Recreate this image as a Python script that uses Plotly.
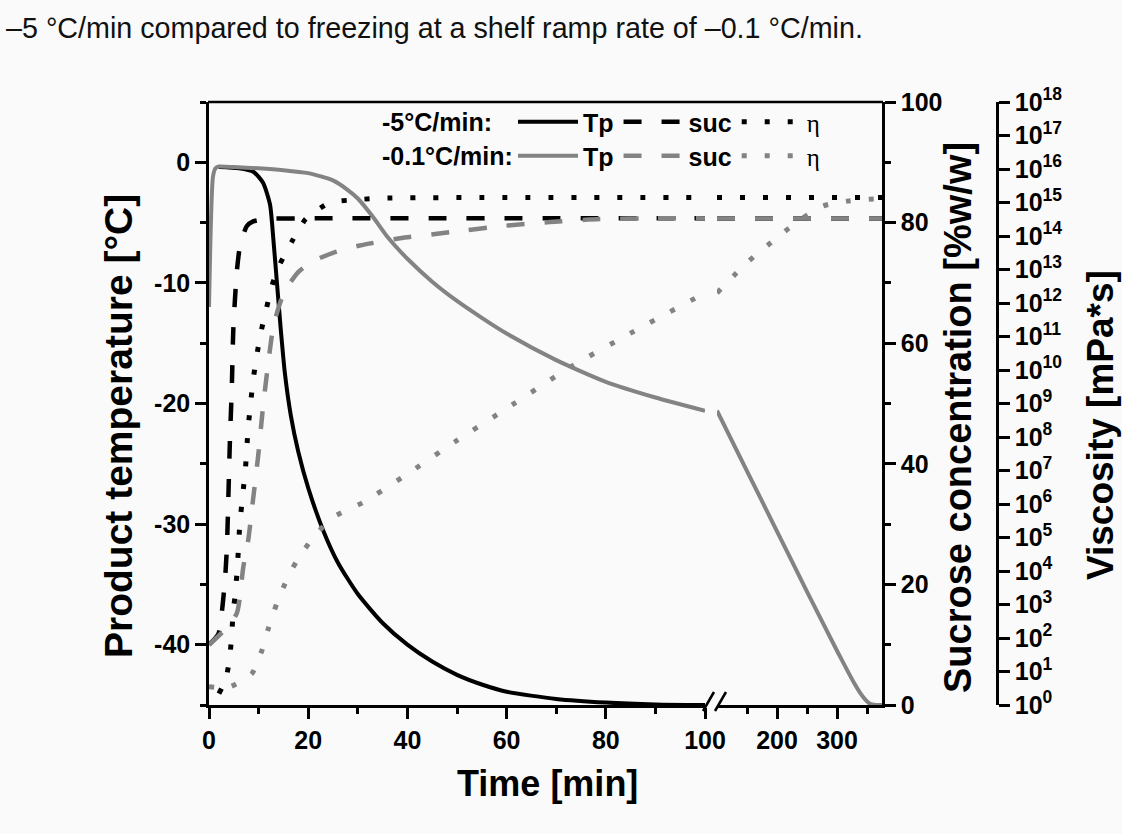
import plotly.graph_objects as go

FONT = "Liberation Sans, Arial, sans-serif"
W, H = 1122, 834
L, R, T, B = 209, 125, 102, 129
PW, PH = W - L - R, H - T - B

def px(xp):
    return (xp - L) / PW

def py(yp):
    return (H - B - yp) / PH

# ---------------- data (time in min) ----------------
# -5 °C/min
tp_fast_t = [2, 6, 9, 10.9, 12.3, 13.0, 13.7, 14.5, 15.3, 16.5, 18, 20, 23, 26, 30,
             35, 40, 45, 50, 55, 60, 70, 80, 90, 100]
tp_fast = [-0.4, -0.5, -0.8, -1.7, -3.5, -6.5, -10.0, -14.0, -17.5, -21.0, -24.0, -27.0, -30.5,
           -33.2, -35.8, -38.2, -40.0, -41.4, -42.5, -43.3, -43.9, -44.5, -44.8, -44.95, -45.0]

suc_fast_t = [0, 1.9, 2.6, 3.2, 3.6, 3.9, 4.2, 4.6, 4.9, 5.6, 6.25, 7.6, 8.9, 11.6, 20, 100, 375]
suc_fast = [10, 11.8, 15.5, 20.5, 26.0, 34.3, 43.4, 52.7, 62.2, 71.8, 76.1, 79.4, 80.2, 80.6, 80.7, 80.7, 80.7]

eta_fast_t = [2.0, 3.4, 4.2, 4.6, 4.9, 5.3, 5.8, 6.2, 6.8, 7.3, 7.9, 8.4, 8.9, 9.6, 10.4, 11.5,
              12.6, 14.3, 16.7, 19.5, 24.4, 29.4, 35, 100, 375]
eta_fast = [2.2e0, 6.0e0, 2.8e1, 1.4e2, 6.9e2, 2.0e3, 2.1e4, 2.3e5, 1.9e6, 9.3e6, 1.9e8, 1.05e9,
            5.1e9, 2.5e10, 1.2e11, 6.0e11, 3.0e12, 1.45e13, 6.8e13, 3.2e14, 1.0e15, 1.2e15,
            1.35e15, 1.4e15, 1.4e15]

# -0.1 °C/min
tp_slow_t = [0, 0.8, 1.3, 2, 5, 10, 15, 20, 25, 28, 30, 33, 36, 40, 45, 50, 55, 60, 70, 80, 90, 100,
             150, 200, 250, 300, 320, 330, 340, 348, 355, 365, 375]
tp_slow = [-12, -1.2, -0.5, -0.35, -0.4, -0.5, -0.65, -0.9, -1.5, -2.3, -3.0, -4.5, -6.2, -8.0,
           -9.9, -11.5, -12.9, -14.2, -16.4, -18.2, -19.5, -20.6,
           -25.6, -30.6, -35.6, -40.5, -42.4, -43.3, -44.1, -44.6, -44.9, -45.0, -45.0]

suc_slow_t = [0, 2.6, 5.6, 6.9, 7.9, 8.9, 9.9, 10.9, 12.0, 13.0, 14.6, 15.7, 18, 21, 25.7, 30.4,
              38.5, 48.6, 58.7, 68.8, 78.8, 90, 100, 375]
suc_slow = [10, 12, 15.2, 22.8, 27.3, 34.2, 41.2, 49.5, 57.1, 62.9, 67.3, 69.2, 71.8, 73.6, 75.2,
            76.2, 77.4, 78.4, 79.4, 80.1, 80.6, 80.7, 80.7, 80.7]

eta_slow_t = [0, 4, 8.6, 10.6, 12, 13.6, 15.7, 17.7, 21, 25, 31, 40, 50, 60, 73, 85, 100,
              150, 202, 238, 277, 317, 353, 375]
eta_slow = [3.5e0, 3.4e0, 8.5e0, 4.0e1, 2.0e2, 1.0e3, 5.6e3, 2.0e4, 1.0e5, 4.0e5, 1.1e6, 7.9e6,
            7.9e7, 7.1e8, 1.26e10, 1.26e11, 2.0e12,
            1.6e13, 9.5e13, 3.0e14, 7.9e14, 1.1e15, 1.26e15, 1.3e15]

x_left_ticks = [0, 20, 40, 60, 80, 100]
x_right_ticks = [200, 300]
temp_ticks = [-40, -30, -20, -10, 0]
visc_exp = list(range(0, 19))

BLACK = "#000000"
GRAY = "#838383"

fig = go.Figure()


def add_series(t, v, yaxis, color, dash, width, name, legend):
    left = [(a, b) for a, b in zip(t, v) if a <= 100]
    right = [(a, b) for a, b in zip(t, v) if a >= 100]
    for i, (part, xa) in enumerate(((left, "x"), (right, "x2"))):
        if len(part) < 2:
            continue
        fig.add_trace(go.Scatter(
            x=[p[0] for p in part], y=[p[1] for p in part],
            xaxis=xa, yaxis=yaxis, mode="lines", name=name,
            line=dict(color=color, width=width, dash=dash, shape="spline", smoothing=0.6),
            legend=legend, legendgroup=legend + name, showlegend=(i == 0),
            hoverinfo="skip"))


ETA = "<span style='font-family:Liberation Serif;font-weight:normal'>η</span>"
DASH = "18px,20px"
DOT = "5px,18px"

add_series(tp_fast_t, tp_fast, "y", BLACK, "solid", 4, "Tp", "legend")
add_series(suc_fast_t, suc_fast, "y2", BLACK, DASH, 4.5, "suc", "legend")
add_series(eta_fast_t, eta_fast, "y3", BLACK, DOT, 5, ETA, "legend")
add_series(tp_slow_t, tp_slow, "y", GRAY, "solid", 4, "Tp", "legend2")
add_series(suc_slow_t, suc_slow, "y2", GRAY, DASH, 4.5, "suc", "legend2")
add_series(eta_slow_t, eta_slow, "y3", GRAY, DOT, 5, ETA, "legend2")

tick_font = dict(family=FONT, size=25, color="black", weight="bold")
axis_common = dict(showgrid=False, zeroline=False, showline=True, linecolor="black", linewidth=2.5,
                   ticks="outside", ticklen=11, tickwidth=2.5, tickcolor="black",
                   tickfont=tick_font, automargin=False)

leg_font = dict(family=FONT, size=25, color="black", weight="bold")
leg_common = dict(orientation="h", xanchor="left", yanchor="middle", font=leg_font,
                  bgcolor="rgba(0,0,0,0)", borderwidth=0, itemwidth=60,
                  itemclick=False, itemdoubleclick=False)

fig.update_layout(
    width=W, height=H,
    margin=dict(l=L, r=R, t=T, b=B),
    paper_bgcolor="#fafafa", plot_bgcolor="#fafafa",
    xaxis=dict(domain=[0, px(705)], range=[0, 100], tickmode="array", tickvals=x_left_ticks,
               minor=dict(dtick=10, tick0=0, ticks="outside", ticklen=6, tickwidth=2.5, tickcolor="black"),
               anchor="y", **axis_common),
    xaxis2=dict(domain=[px(717), px(882)], range=[100, 375], tickmode="array", tickvals=x_right_ticks,
                minor=dict(tickmode="array", tickvals=[150, 250, 350], ticks="outside", ticklen=6,
                           tickwidth=2.5, tickcolor="black"),
                anchor="y", **axis_common),
    yaxis=dict(range=[-45, 5], tickmode="array", tickvals=temp_ticks,
               ticktext=[str(v) for v in temp_ticks], anchor="x",
               minor=dict(dtick=5, tick0=0, ticks="outside", ticklen=6, tickwidth=2.5, tickcolor="black"),
               **axis_common),
    yaxis2=dict(range=[0, 100], tickmode="linear", tick0=0, dtick=20, anchor="x2", side="right",
                overlaying="y",
                minor=dict(dtick=10, tick0=0, ticks="outside", ticklen=6, tickwidth=2.5, tickcolor="black"),
                **axis_common),
    yaxis3=dict(type="log", range=[0, 18], tickmode="array",
                tickvals=[10 ** e for e in visc_exp],
                ticktext=["10<sup>%d</sup>" % e for e in visc_exp],
                anchor="free", position=1.0, side="right", overlaying="y",
                **axis_common),
    legend=dict(x=px(513), y=py(122), **leg_common),
    legend2=dict(x=px(513), y=py(156), **leg_common),
    showlegend=True,
)

ann = [
    dict(text="Time [min]", x=px(547), y=py(783),
         font=dict(family=FONT, size=36, color="black", weight="bold")),
    dict(text="Product temperature [°C]", x=px(118), y=py(426), textangle=-90,
         font=dict(family=FONT, size=39, color="black", weight="bold")),
    dict(text="Sucrose concentration [%w/w]", x=px(958), y=py(418), textangle=-90,
         font=dict(family=FONT, size=38, color="black", weight="bold")),
    dict(text="Viscosity [mPa*s]", x=px(1100), y=py(425), textangle=-90,
         font=dict(family=FONT, size=37, color="black", weight="bold")),
    dict(text="-5°C/min:", x=px(380), y=py(122), xanchor="left", font=leg_font),
    dict(text="-0.1°C/min:", x=px(380), y=py(156), xanchor="left", font=leg_font),
    dict(text="\u20135 °C/min compared to freezing at a shelf ramp rate of \u20130.1 °C/min.",
         x=px(4), y=py(28), xanchor="left", font=dict(family=FONT, size=28.7, color="#111111")),
]
for a in ann:
    a.setdefault("xanchor", "center")
    fig.add_annotation(xref="paper", yref="paper", showarrow=False, yanchor="middle", **a)

# top frame line and axis-break marks
fig.add_shape(type="line", xref="paper", yref="paper", x0=px(208), x1=px(883), y0=1, y1=1,
              line=dict(color="black", width=2.5))
for x0 in (703, 715):
    fig.add_shape(type="line", xref="paper", yref="paper", x0=px(x0), x1=px(x0 + 11),
                  y0=py(711), y1=py(692), line=dict(color="black", width=2.5))

fig.write_html("out.html")
